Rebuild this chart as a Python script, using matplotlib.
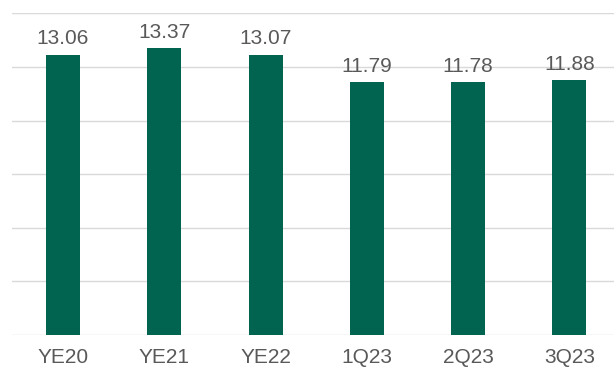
import matplotlib
matplotlib.use("Agg")
import matplotlib.pyplot as plt

# Chart data
categories = ["YE20", "YE21", "YE22", "1Q23", "2Q23", "3Q23"]
values = [13.06, 13.37, 13.07, 11.79, 11.78, 11.88]

plt.rcParams['font.family'] = ['Liberation Sans', 'DejaVu Sans']

fig = plt.figure(figsize=(6.14, 3.69), dpi=100)
ax = fig.add_axes([0.0202, 0.0921, 0.9798, 0.8716])

x = range(len(categories))
bars = ax.bar(x, values, width=0.336, color="#006450", zorder=3)

# Value labels above bars
for xi, v in zip(x, values):
    ax.text(xi, v + 0.5, f"{v:.2f}", ha="center", va="baseline",
            fontsize=15, color="#595959")

ax.set_xlim(-0.5, 5.44)
ax.set_ylim(0, 15)
ax.set_yticks([0, 2.5, 5, 7.5, 10, 12.5, 15])
ax.yaxis.grid(True, color="#d9d9d9", linewidth=1, zorder=0)
ax.tick_params(axis="y", left=False, labelleft=False)
ax.set_xticks(list(x))
ax.set_xticklabels(categories, fontsize=15, color="#595959")
ax.tick_params(axis="x", length=0, pad=9)
for s in ax.spines.values():
    s.set_visible(False)

fig.savefig("out.png", dpi=100)
